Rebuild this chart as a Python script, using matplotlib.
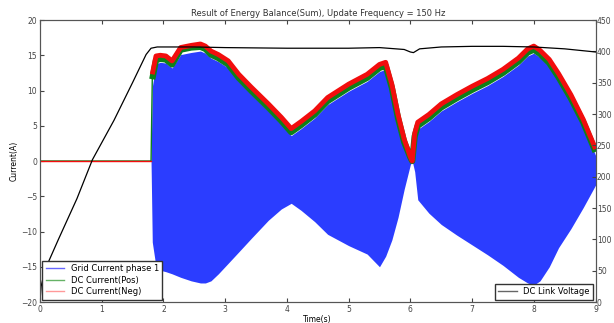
import numpy as np
import matplotlib
matplotlib.use("Agg")
import matplotlib.pyplot as plt
from matplotlib.lines import Line2D

# time base for the current envelopes (s)
t_cur = [0.0, 1.80, 1.82, 1.88, 1.95, 2.04, 2.14, 2.28, 2.45, 2.60, 2.68, 2.77, 2.89,
         3.05, 3.22, 3.42, 3.70, 3.91, 4.07, 4.23, 4.45, 4.66, 5.00, 5.30, 5.50,
         5.60, 5.70, 5.80, 5.90, 6.00, 6.03, 6.07, 6.12, 6.30, 6.50, 6.75, 7.00,
         7.25, 7.50, 7.75, 7.90, 8.00, 8.10, 8.25, 8.40, 8.60, 8.80, 9.00]

# grid current phase 1 (A): envelope of the fast oscillation
grid_upper = [0.0, 0.0, 10.5, 13.8, 14.0, 13.9, 13.2, 15.1, 15.4, 15.6, 15.3, 14.6, 14.1,
              13.2, 11.3, 9.5, 7.1, 5.2, 3.6, 4.6, 6.1, 8.0, 9.9, 11.3, 12.7,
              13.0, 9.9, 5.6, 2.2, 0.2, 0.0, 3.1, 4.5, 5.6, 7.1, 8.4, 9.6,
              10.7, 12.0, 13.6, 14.9, 15.3, 14.7, 13.4, 11.4, 8.4, 5.0, 0.8]
grid_lower = [0.0, 0.0, -11.5, -15.0, -15.5, -15.7, -16.0, -16.5, -17.0, -17.3, -17.3, -17.0, -16.0,
              -14.5, -12.9, -11.0, -8.4, -6.8, -6.0, -7.0, -8.6, -10.4, -12.0, -13.2, -15.0,
              -13.5, -11.2, -8.0, -4.0, -0.5, 0.0, -1.5, -5.5, -7.4, -9.0, -10.5, -11.9,
              -13.3, -14.8, -16.5, -17.3, -17.6, -17.0, -15.0, -12.3, -9.6, -6.6, -3.4]

# DC currents (A)
dc_pos = [0.0, 0.0, 11.6, 14.3, 14.5, 14.4, 13.7, 15.8, 16.1, 16.2, 15.9, 15.1, 14.6,
          13.7, 11.8, 10.0, 7.6, 5.7, 4.1, 5.1, 6.6, 8.5, 10.4, 11.8, 13.2,
          13.5, 10.4, 6.1, 2.7, 0.5, 0.0, 3.5, 5.0, 6.1, 7.6, 8.9, 10.1,
          11.2, 12.5, 14.1, 15.4, 15.8, 15.2, 13.9, 11.9, 8.9, 5.5, 1.3]
dc_neg = [0.0, 0.0, 12.3, 14.9, 15.0, 14.9, 14.2, 16.1, 16.4, 16.6, 16.3, 15.6, 15.1,
          14.2, 12.3, 10.5, 8.1, 6.2, 4.6, 5.6, 7.1, 9.0, 10.9, 12.3, 13.7,
          14.0, 10.9, 6.6, 3.1, 0.6, 0.0, 3.9, 5.5, 6.6, 8.1, 9.4, 10.6,
          11.7, 13.0, 14.6, 15.9, 16.3, 15.7, 14.4, 12.4, 9.4, 5.9, 1.7]

# DC link voltage (V)
t_volt = [0.0, 0.02, 0.08, 0.30, 0.60, 0.85, 1.20, 1.50, 1.72, 1.80, 1.90, 2.50, 3.00,
          4.00, 5.00, 5.50, 5.90, 6.00, 6.05, 6.15, 6.50, 7.00, 7.50, 8.00, 8.50, 9.00]
v_dc = [0, 25, 51, 100, 165, 227, 290, 350, 395, 405, 407, 407, 406,
        405, 405, 406, 403, 399, 398, 404, 407, 408, 408, 407, 404, 399]

fig = plt.figure(figsize=(6.14, 3.23), dpi=100)
ax = fig.add_axes([0.065, 0.065, 0.905, 0.873])

blue = (0.17, 0.24, 1.0)
green = (0.05, 0.5, 0.1)
red = (0.95, 0.05, 0.05)

ax.fill_between(t_cur[1:], grid_lower[1:], grid_upper[1:], color=blue, lw=0, zorder=2)
ax.plot(t_cur[:3], dc_pos[:3], color=green, lw=1, zorder=3)
ax.plot(t_cur[2:], dc_pos[2:], color=green, lw=4.5, solid_joinstyle="round",
        solid_capstyle="butt", zorder=3)
ax.plot(t_cur[:2], dc_neg[:2], color=red, lw=1, zorder=4)
ax.plot(t_cur[2:], dc_neg[2:], color=red, lw=3.5, solid_joinstyle="round",
        solid_capstyle="butt", zorder=4)

ax.set_xlim(0, 9)
ax.set_ylim(-20, 20)
ax.set_xticks(range(0, 10))
ax.set_yticks(range(-20, 21, 5))
ax.set_xlabel("Time(s)", fontsize=5.5, labelpad=1)
ax.set_ylabel("Current(A)", fontsize=5.5, labelpad=2)
ax.set_title("Result of Energy Balance(Sum), Update Frequency = 150 Hz", fontsize=6, pad=3,
             color="#333333")
ax.tick_params(direction="in", labelsize=5.5, length=3, top=True, pad=2, colors="#444444")

ax2 = ax.twinx()
ax2.plot(t_volt, v_dc, color="black", lw=0.9)
ax2.set_ylim(0, 450)
ax2.set_yticks(range(0, 451, 50))
ax2.tick_params(direction="in", labelsize=5.5, length=3, pad=1, colors="#444444")

for a in (ax, ax2):
    for s in a.spines.values():
        s.set_color("#555555")

h1 = [Line2D([], [], color="b", alpha=0.6, lw=1),
      Line2D([], [], color="g", alpha=0.6, lw=1),
      Line2D([], [], color="r", alpha=0.4, lw=1)]
leg1 = ax2.legend(h1, ["Grid Current phase 1", "DC Current(Pos)", "DC Current(Neg)"],
                  loc="lower left", fontsize=6, fancybox=False, framealpha=1,
                  edgecolor="#333333", borderaxespad=0.3, handlelength=2.2,
                  labelspacing=0.3)
ax2.add_artist(leg1)
h2 = [Line2D([], [], color="black", alpha=0.6, lw=1)]
ax2.legend(h2, ["DC Link Voltage"], loc="lower right", fontsize=6, fancybox=False,
           framealpha=1, edgecolor="#333333", borderaxespad=0.3, handlelength=2.2)

fig.savefig("out.png", dpi=100)
